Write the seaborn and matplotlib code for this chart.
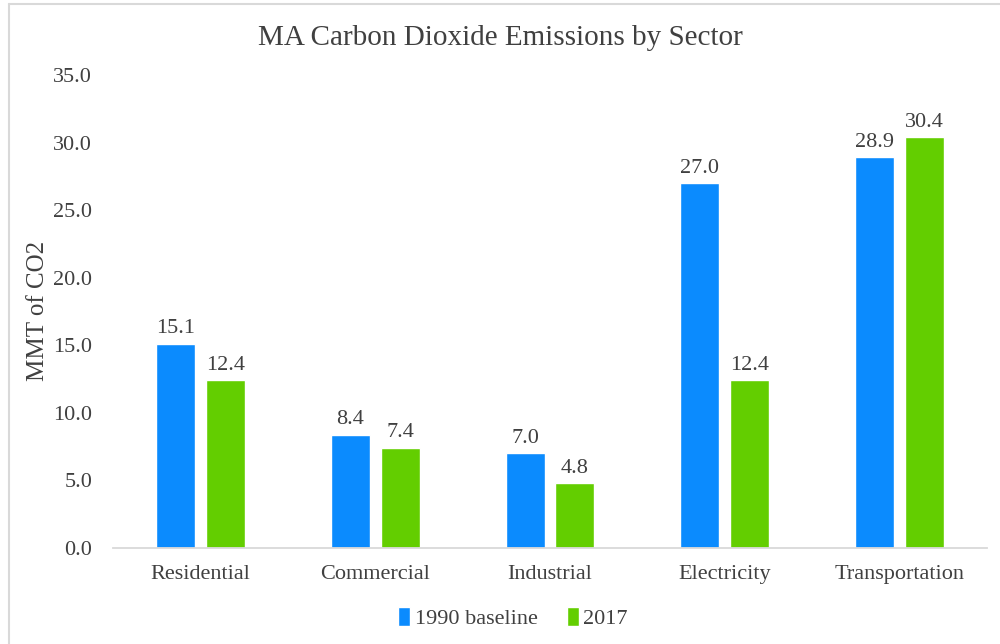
import matplotlib
matplotlib.use("Agg")
import matplotlib.pyplot as plt
import seaborn as sns
import pandas as pd
from matplotlib.lines import Line2D
from matplotlib.ticker import FormatStrFormatter

# Emissions data (million metric tons of CO2)
sectors = ["Residential", "Commercial", "Industrial", "Electricity", "Transportation"]
baseline_1990 = [15.1, 8.4, 7.0, 27.0, 28.9]
emissions_2017 = [12.4, 7.4, 4.8, 12.4, 30.4]
series_names = ["1990 baseline", "2017"]
y_ticks = [0, 5, 10, 15, 20, 25, 30, 35]

df = pd.DataFrame({
    "Sector": sectors * 2,
    "Series": [series_names[0]] * len(sectors) + [series_names[1]] * len(sectors),
    "Value": baseline_1990 + emissions_2017,
})

BLUE = "#0B8BFE"
GREEN = "#63CE00"
TEXT = "#404040"
LINE = "#D9D9D9"

sns.set_theme(style="white")
plt.rcParams["font.family"] = ["Liberation Serif", "DejaVu Serif"]

fig = plt.figure(figsize=(10, 6.44), dpi=100)
ax = fig.add_axes([0.113, 0.149, 0.874, 0.7345])

sns.barplot(
    data=df, x="Sector", y="Value", hue="Series",
    palette=[BLUE, GREEN], saturation=1, width=0.57, gap=0.22,
    edgecolor="white", linewidth=1, ax=ax,
)

for container in ax.containers:
    ax.bar_label(container, fmt="%.1f", padding=4, fontsize=16, color=TEXT)

ax.set_ylim(0, 35)
ax.set_yticks(y_ticks)
ax.yaxis.set_major_formatter(FormatStrFormatter("%.1f"))
ax.set_xlabel("")
ax.set_ylabel("")
ax.tick_params(axis="both", length=0, labelsize=16, colors=TEXT)
ax.tick_params(axis="y", pad=15)
ax.tick_params(axis="x", pad=12)

for side in ["left", "top", "right"]:
    ax.spines[side].set_visible(False)
ax.spines["bottom"].set_color(LINE)
ax.spines["bottom"].set_linewidth(1.3)

fig.text(0.5, 1 - 38 / 644, "MA Carbon Dioxide Emissions by Sector",
         ha="center", va="center", fontsize=21, color=TEXT)
fig.text(0.038, 1 - 311 / 644, "MMT of CO2", rotation=90,
         ha="center", va="center", fontsize=18, color=TEXT)

ax.legend(
    loc="center", bbox_to_anchor=(0.513, 1 - 618 / 644), bbox_transform=fig.transFigure,
    ncol=2, frameon=False, fontsize=16, labelcolor=TEXT,
    handlelength=0.55, handleheight=0.9, handletextpad=0.2, columnspacing=1.3,
)

# Outer frame (left and top edges)
fig.add_artist(Line2D([0.0085, 0.0085], [0, 1 - 3.5 / 644], color=LINE, lw=1.5,
                      transform=fig.transFigure))
fig.add_artist(Line2D([0.0085, 1], [1 - 3.5 / 644, 1 - 3.5 / 644], color=LINE, lw=1.5,
                      transform=fig.transFigure))

fig.savefig("out.png", dpi=100, facecolor="white")
